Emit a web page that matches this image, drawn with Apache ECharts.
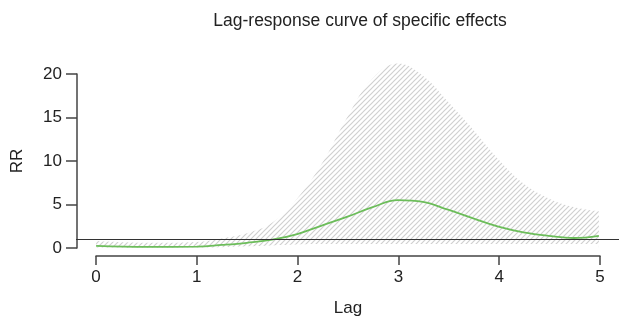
<!DOCTYPE html>
<html>
<head>
<meta charset="utf-8">
<script src="https://cdn.jsdelivr.net/npm/echarts@6/dist/echarts.min.js"></script>
<style>
  html, body { margin: 0; padding: 0; background: #fff; }
  #chart { width: 619px; height: 325px; }
</style>
</head>
<body>
<div id="chart"></div>
<script>
// lag values and estimates
const lags = [0, 0.5, 1, 1.25, 1.5, 1.75, 2, 2.25, 2.5, 2.75, 3, 3.25, 3.5, 3.75, 4, 4.25, 4.5, 4.75, 5];
const rr = [0.25, 0.12, 0.15, 0.35, 0.6, 0.95, 1.6, 2.6, 3.6, 4.7, 5.5, 5.3, 4.4, 3.4, 2.45, 1.8, 1.4, 1.15, 1.4];
const rrHigh = [0.8, 0.6, 0.7, 1.1, 1.7, 2.9, 5.7, 9.8, 15.1, 19.5, 21.2, 19.8, 16.8, 13.6, 10.2, 7.4, 5.7, 4.7, 4.2];
const rrLow = [0.05, 0.03, 0.05, 0.1, 0.2, 0.3, 0.4, 0.45, 0.45, 0.45, 0.45, 0.45, 0.45, 0.45, 0.45, 0.45, 0.45, 0.45, 0.45];
const xTicks = [0, 5, 1];
const yTicks = [0, 20, 5];

const font = '"Liberation Sans", Arial, sans-serif';

// diagonal hatch pattern for the confidence band
function hatch() {
  const c = document.createElement('canvas');
  c.width = 5;
  c.height = 5;
  const ctx = c.getContext('2d');
  ctx.strokeStyle = '#d0d0d0';
  ctx.lineWidth = 1.2;
  ctx.beginPath();
  ctx.moveTo(-1, 6); ctx.lineTo(6, -1);
  ctx.moveTo(-1, 1); ctx.lineTo(1, -1);
  ctx.moveTo(4, 6); ctx.lineTo(6, 4);
  ctx.stroke();
  return c;
}

const highData = lags.map((x, i) => [x, rrHigh[i]]);
const lowData = lags.map((x, i) => [x, rrLow[i]]);
const rrData = lags.map((x, i) => [x, rr[i]]);

const chart = echarts.init(document.getElementById('chart'));
chart.setOption({
  animation: false,
  textStyle: { fontFamily: font },
  title: {
    text: 'Lag-response curve of specific effects',
    left: 355,
    top: 7,
    textAlign: 'center',
    textStyle: { fontSize: 17.5, fontWeight: 'normal', color: '#222', fontFamily: font }
  },
  grid: [
    // data area (R plot region with 4% padding)
    { left: 76, width: 544, top: 74, height: 174 },
    // x axis display
    { left: 96, width: 504, top: 74, height: 182 },
    // y axis display
    { left: 77, width: 1, top: 74, height: 174 }
  ],
  xAxis: [
    { gridIndex: 0, type: 'value', min: -0.2, max: 5.2, show: false },
    {
      gridIndex: 1, type: 'value', min: xTicks[0], max: xTicks[1], interval: xTicks[2],
      name: 'Lag', nameLocation: 'middle', nameGap: 44,
      nameTextStyle: { fontSize: 17, color: '#222' },
      axisLine: { show: true, lineStyle: { color: '#444', width: 1.5 } },
      axisTick: { show: true, length: 9, lineStyle: { color: '#444', width: 1.5 } },
      axisLabel: { fontSize: 17, color: '#222', margin: 13 },
      splitLine: { show: false }
    },
    { gridIndex: 2, type: 'value', show: false }
  ],
  yAxis: [
    { gridIndex: 0, type: 'value', min: 0, max: 20, show: false },
    { gridIndex: 1, type: 'value', show: false },
    {
      gridIndex: 2, type: 'value', min: yTicks[0], max: yTicks[1], interval: yTicks[2],
      name: 'RR', nameLocation: 'middle', nameGap: 51,
      nameTextStyle: { fontSize: 17, color: '#222' },
      axisLine: { show: true, lineStyle: { color: '#444', width: 1.5 } },
      axisTick: { show: true, length: 11, lineStyle: { color: '#444', width: 1.5 } },
      axisLabel: { fontSize: 17, color: '#222', margin: 15 },
      splitLine: { show: false }
    }
  ],
  series: [
    {
      type: 'line', xAxisIndex: 0, yAxisIndex: 0, data: highData,
      smooth: 0.4, symbol: 'none', clip: false, lineStyle: { width: 0, opacity: 0 },
      areaStyle: { color: { image: hatch(), repeat: 'repeat' }, opacity: 1 }
    },
    {
      type: 'line', xAxisIndex: 0, yAxisIndex: 0, data: lowData,
      smooth: 0.4, symbol: 'none', clip: false, lineStyle: { width: 0, opacity: 0 },
      areaStyle: { color: '#fff', opacity: 1 }
    },
    {
      type: 'line', xAxisIndex: 0, yAxisIndex: 0, data: rrData,
      smooth: 0.4, symbol: 'none', clip: false,
      lineStyle: { color: '#6cbd5a', width: 1.8 },
      markLine: {
        silent: true, symbol: 'none', label: { show: false },
        lineStyle: { color: '#333', width: 1.2, type: 'solid' },
        data: [{ yAxis: 1 }]
      }
    }
  ]
});
</script>
</body>
</html>
